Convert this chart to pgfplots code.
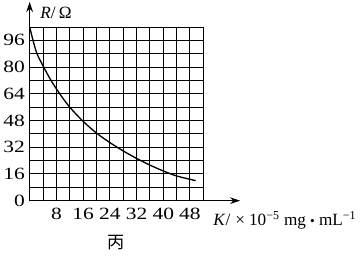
\documentclass[border=0pt]{standalone}
\usepackage{pgfplots}
\pgfplotsset{compat=1.18}
\usetikzlibrary{arrows.meta}
\usepackage{fontspec}
\setmainfont{Liberation Serif}
\newfontfamily\widefont[FakeStretch=1.25]{Liberation Serif}
\newfontfamily\cjk{Noto Sans CJK SC}
\begin{document}
\fontsize{10.3}{12.4}\selectfont
\begin{tikzpicture}
\useasboundingbox (-17.8pt,-32.6pt) rectangle (199.4pt,120.4pt);
\begin{axis}[
  anchor=origin, at={(0pt,0pt)},
  scale only axis, width=104.2pt, height=104.2pt,
  xmin=0, xmax=52, ymin=0, ymax=104,
  axis line style={draw=none},
  xtick={4,8,...,52}, xticklabels={,8,,16,,24,,32,,40,,48,},
  ytick={0,8,...,104}, yticklabels={0,,16,,32,,48,,64,,80,,96,},
  minor tick num=0,
  major tick length=0pt,
  xmajorgrids, ymajorgrids,
  major grid style={black, line width=0.6pt},
  tick label style={font=\widefont\fontsize{10.3}{12.4}\selectfont},
  xticklabel style={yshift=-0.8pt},
  yticklabel style={xshift=0.8pt},
  clip=false,
]
\addplot[black, line width=0.8pt, smooth, tension=0.5] coordinates {
 (0,104) (1,96) (2.2,88) (4.2,80) (6.4,72) (9,64) (12,56) (16,47.5)
 (20,40.5) (24,34.8) (28,29.8) (32,25.3) (36,21.3) (40,17.8) (44,14.8) (49.7,12)
};
\draw[line width=0.8pt, -{Stealth[length=6pt,width=4pt]}] (axis cs:0,0) -- (axis cs:63,0);
\draw[line width=0.8pt, -{Stealth[length=6pt,width=4pt]}] (axis cs:0,0) -- (axis cs:0,119);
\node[anchor=base west, inner sep=0pt] at (axis cs:3.1,108.8) {\textit{R}/\hspace{2pt}Ω};
\node[anchor=base west, inner sep=0pt] at (axis cs:54.9,-14.6) {\textit{K}/\hspace{3pt}×\hspace{2.5pt}10\textsuperscript{−5}\hspace{2.5pt}mg\hspace{2.5pt}{\fontsize{8}{8}\selectfont•}\hspace{2.5pt}mL\textsuperscript{−1}};
\node[inner sep=0pt] at (axis cs:25.8,-25.3) {\cjk 丙};
\end{axis}
\end{tikzpicture}
\end{document}
